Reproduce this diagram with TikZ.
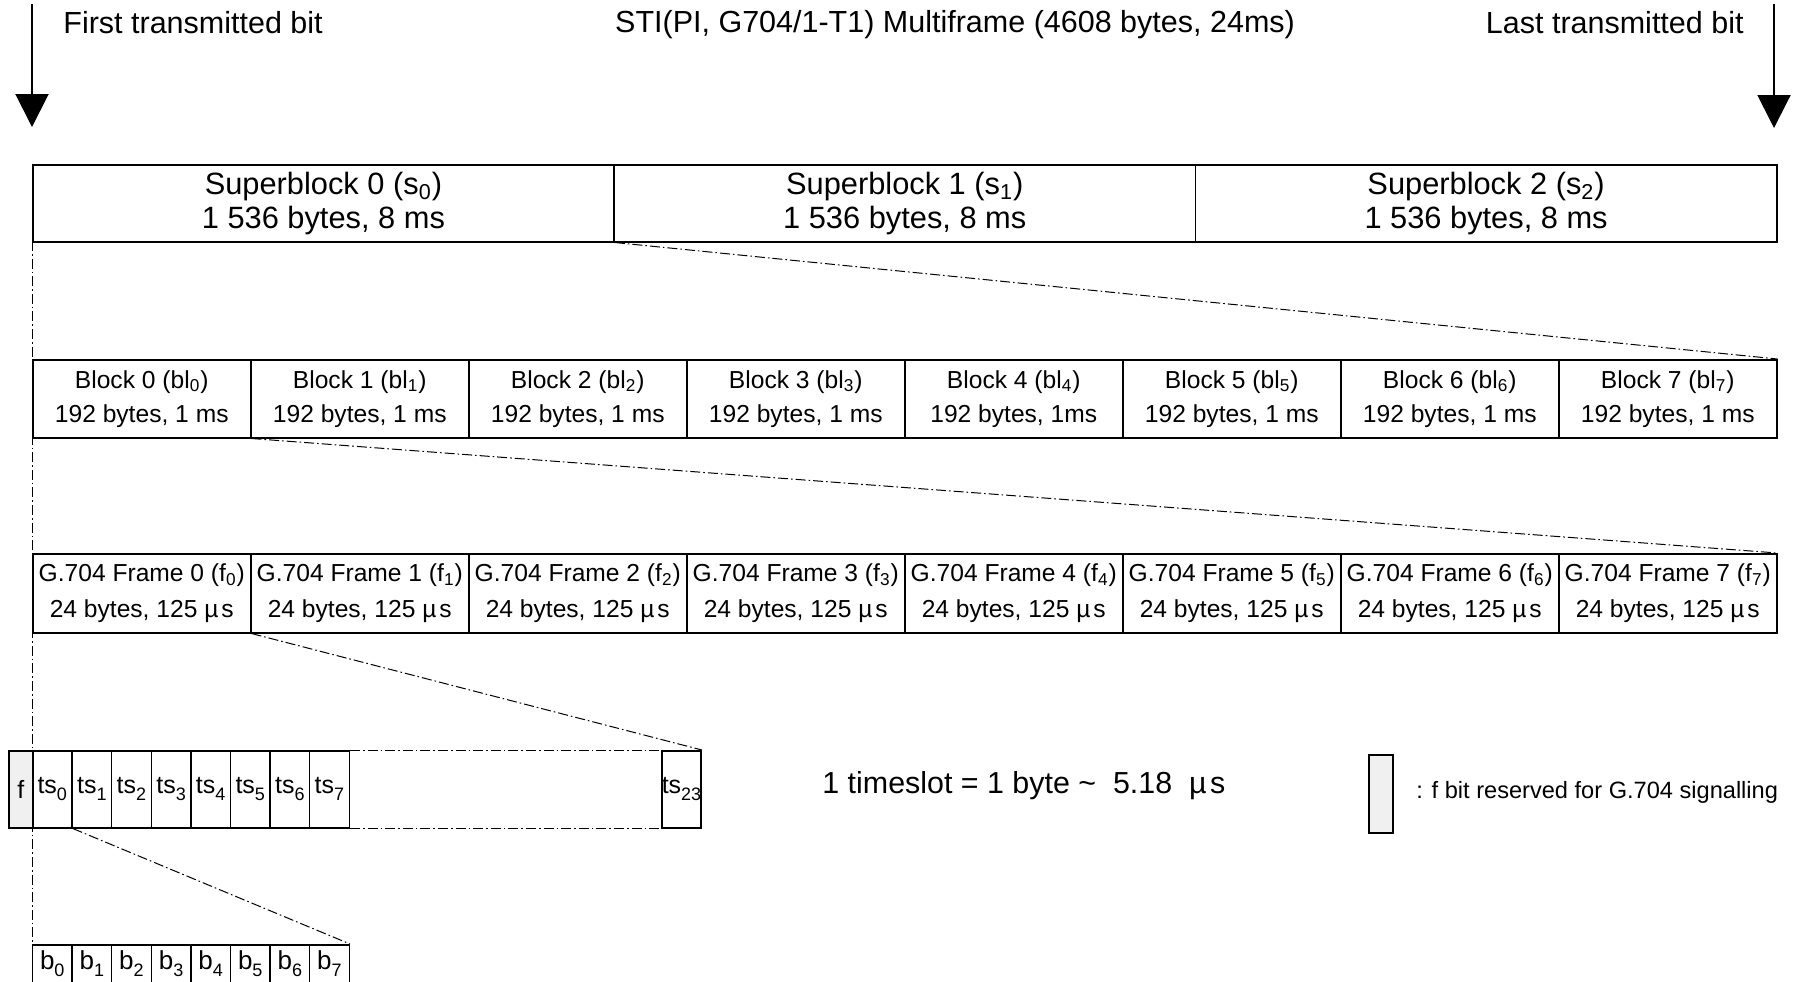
\documentclass[tikz,border=0pt]{standalone}
\usepackage{fontspec}
\setmainfont{Liberation Sans}
\usetikzlibrary{arrows.meta}
\newcommand\lsub[1]{\raisebox{-3.6pt}{\fontsize{9}{9}\selectfont #1}}
\newcommand\us{µ\hspace{0.12em}s}
\begin{document}
\begin{tikzpicture}[x=0.5pt,y=-0.5pt,
  box/.style={draw,line width=0.75pt,anchor=north west,inner sep=0pt,align=center},
  sbcell/.style={box,minimum width=290.67pt,minimum height=38.5pt,font=\fontsize{15.4}{17}\selectfont},
  blcell/.style={box,minimum width=109pt,minimum height=39pt,font=\fontsize{12.3}{17}\selectfont},
  frcell/.style={box,minimum width=109pt,minimum height=39.5pt,font=\fontsize{12.3}{18}\selectfont},
  tscell/.style={box,minimum width=19.8pt,minimum height=38.5pt,font=\fontsize{12.5}{14}\selectfont},
  bcell/.style={box,minimum width=19.8pt,minimum height=19pt,font=\fontsize{13}{14}\selectfont},
  zoomline/.style={line width=0.5pt,dash pattern=on 5pt off 1.5pt on 0.8pt off 1.5pt},
  bigtext/.style={inner sep=0pt,font=\fontsize{15.25}{18}\selectfont},
  downarrow/.style={line width=1pt,-{Triangle[width=16.5pt,length=16.5pt]}}
]
\useasboundingbox (0,0) rectangle (1793,981);

% vertical dash-dot reference line
\coordinate (vbot) at (32,990);
\coordinate (vtop) at (32,241);
\draw[zoomline] (vtop) -- (vbot);

% top texts and arrows
\node[bigtext,anchor=west] (first) at (63,23) {First transmitted bit};
\node[bigtext,anchor=east] (last) at (1744,23) {Last transmitted bit};
\node[bigtext] (title) at (955,25) {STI(PI, G704/1-T1) Multiframe (4608 bytes, 24ms)};
\coordinate (la0) at (32,4);
\coordinate (la1) at (32,127);
\coordinate (ra0) at (1774,4);
\coordinate (ra1) at (1774,128);
\draw[downarrow] (la0) -- (la1);
\draw[downarrow] (ra0) -- (ra1);

% superblocks
\foreach \i in {0,1,2} {
  \node[sbcell] (sb\i) at ({32+\i*581.33},164) {Superblock \i\ (s\textsubscript{\i})\\1 536 bytes, 8 ms};
}

% blocks
\foreach \i in {0,...,7} {
  \ifnum\i=4
    \node[blcell] (bl\i) at ({32+\i*218},359) {Block \i\ (bl\textsubscript{\i})\\192 bytes, 1ms};
  \else
    \node[blcell] (bl\i) at ({32+\i*218},359) {Block \i\ (bl\textsubscript{\i})\\192 bytes, 1 ms};
  \fi
}

% frames
\foreach \i in {0,...,7} {
  \node[frcell] (fr\i) at ({32+\i*218},553) {G.704 Frame \i\ (f\textsubscript{\i})\\24 bytes, 125 \us};
}

% timeslots
\node[tscell,minimum width=12pt,fill=gray!12] (fbit) at (8,750) {f};
\foreach \i in {0,...,7} {
  \node[tscell] (ts\i) at ({31.7+\i*39.6},750) {ts\lsub{\i}};
}
\node[tscell,minimum width=19.5pt] (ts23) at (661,750) {ts\lsub{23}};
\draw[zoomline] (ts7.north east) -- (ts23.north west);
\draw[zoomline] (ts7.south east) -- (ts23.south west);

% bits
\foreach \i in {0,...,7} {
  \node[bcell] (b\i) at ({31.7+\i*39.6},944) {b\lsub{\i}};
}

% zoom connectors
\draw[zoomline] (sb0.south east) -- (bl7.north east);
\draw[zoomline] (bl0.south east) -- (fr7.north east);
\draw[zoomline] (fr0.south east) -- (ts23.north east);
\draw[zoomline] (ts0.south east) -- (b7.north east);

% notes
\node[bigtext,font=\fontsize{15.2}{18}\selectfont,anchor=west] (tsnote) at (822,786) {1 timeslot = 1 byte \textasciitilde\ \ 5.18\ \ \us};
\node[box,minimum width=12pt,minimum height=39pt,fill=gray!12] (legbox) at (1368,754) {};
\node[inner sep=0pt,anchor=west,font=\fontsize{11.8}{14}\selectfont] (legtxt) at (1416,792) {: f bit reserved for G.704 signalling};
\end{tikzpicture}
\end{document}
